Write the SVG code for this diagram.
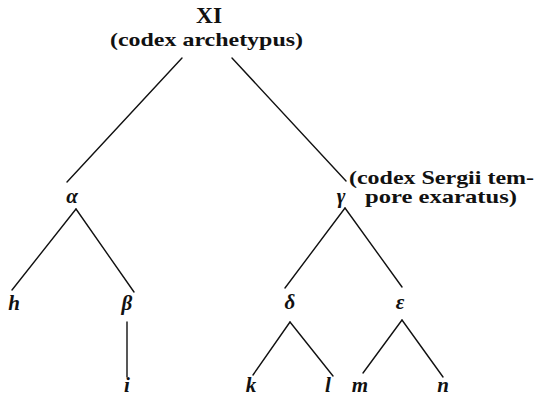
<svg xmlns="http://www.w3.org/2000/svg" width="536" height="398" viewBox="0 0 536 398">
<style>
.lab{font-size:19px;}
.sig{font-size:21px;font-style:italic;text-anchor:middle;}
.title{font-size:23px;text-anchor:middle;}
#edges line{stroke:#111;stroke-width:1.4;stroke-linecap:round;}
</style>
<rect width="536" height="398" fill="#fff"/>
<g id="edges">
<line x1="182" y1="58" x2="67" y2="182"/>
<line x1="232" y1="58" x2="346" y2="181"/>
<line x1="76" y1="209" x2="12" y2="290"/>
<line x1="76" y1="209" x2="134" y2="292"/>
<line x1="345" y1="208" x2="285" y2="288"/>
<line x1="345" y1="208" x2="402" y2="287"/>
<line x1="127" y1="322" x2="127" y2="377"/>
<line x1="290" y1="322" x2="253" y2="375"/>
<line x1="290" y1="322" x2="333" y2="376"/>
<line x1="402" y1="320" x2="363" y2="373"/>
<line x1="402" y1="320" x2="443" y2="377"/>
</g>
<g font-family="Liberation Serif, Times New Roman, serif" font-weight="bold" fill="#111">
<g id="XI">
<text class="title" x="209" y="23" textLength="26" lengthAdjust="spacingAndGlyphs">XI</text>
<text class="lab" x="110" y="46" textLength="193" lengthAdjust="spacingAndGlyphs">(codex archetypus)</text>
</g>
<g id="alpha"><text class="sig" x="72" y="203">α</text></g>
<g id="gamma">
<text class="sig" x="341" y="203">γ</text>
<text class="lab" x="349" y="184" textLength="185" lengthAdjust="spacingAndGlyphs">(codex Sergii tem-</text>
<text class="lab" x="365" y="203" textLength="152" lengthAdjust="spacingAndGlyphs">pore exaratus)</text>
</g>
<g id="h"><text class="sig" x="14" y="310">h</text></g>
<g id="beta"><text class="sig" x="127" y="310">β</text></g>
<g id="delta"><text class="sig" x="290" y="309">δ</text></g>
<g id="epsilon"><text class="sig" x="400" y="309">ε</text></g>
<g id="i"><text class="sig" x="127" y="392">i</text></g>
<g id="k"><text class="sig" x="251" y="392">k</text></g>
<g id="l"><text class="sig" x="328" y="392">l</text></g>
<g id="m"><text class="sig" x="360" y="392">m</text></g>
<g id="n"><text class="sig" x="443" y="392">n</text></g>
</g>
</svg>
